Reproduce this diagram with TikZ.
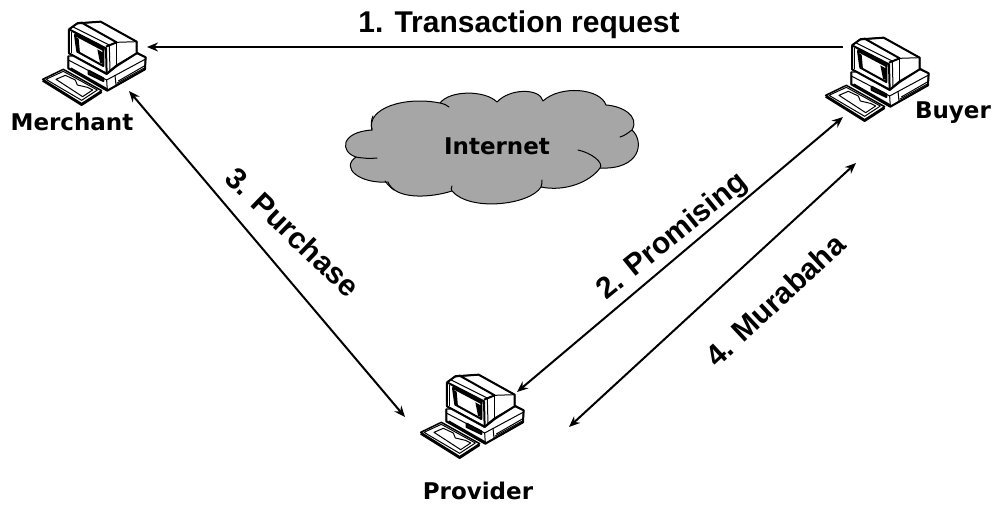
\documentclass[tikz,border=0pt]{standalone}
\usepackage{fontspec}
\setmainfont{Liberation Sans}
\newfontfamily\comicfont{DejaVu Sans}
\usetikzlibrary{arrows.meta}
\tikzset{
  conn/.style={line width=2pt,{Stealth[length=11pt,width=9pt]}-{Stealth[length=11pt,width=9pt]}},
  connone/.style={line width=2pt,-{Stealth[length=11pt,width=9pt]}},
  arrowlabel/.style={font=\fontsize{30}{32}\selectfont\bfseries,inner sep=0pt},
  hostlabel/.style={font=\fontsize{23}{26}\comicfont\bfseries,inner sep=0pt},
  cloudline/.style={line width=1pt,draw=black,line cap=round},
  pc/.style={line width=1.3pt,draw=black,line join=round,fill=white},
  pcthin/.style={line width=1pt,draw=black,line join=round},
  pcthick/.style={line width=2pt,draw=black,line join=round},
  pics/computer/.style={code={
    \begin{scope}[x=.3333pt,y=-.3333pt]
      % keyboard
      \path[pc,line width=1.5pt] (128,238)--(190,208)--(305,272)--(245,311)--cycle;
      \draw[pcthin] (138,238)--(190,214)--(292,270)--(245,301)--cycle;
      \draw[pcthin] (168,238)--(196,226)--(226,240)--(232,255)--(262,262)--(278,270)--(248,290)--cycle;
      \draw[pcthick] (128,242)--(245,315)--(305,276);
      % base
      \path[pc] (205,168)--(410,160)--(437,172)--(435,208)--(322,272)--(205,205)--cycle;
      \draw[pcthick] (205,168)--(205,205)--(322,272)--(435,208)--(437,172)--(410,158);
      \draw[pcthin] (205,180)--(320,240)--(437,177);
      \draw[pcthin] (320,240)--(322,272);
      \draw[pcthin] (345,225)--(348,255);
      \draw[pcthin] (350,250)--(435,203);
      \draw[pcthin] (355,243)--(433,198);
      \draw[pcthick] (266,212)--(310,235)--(310,243)--(266,222)--cycle;
      \draw[pcthin] (266,217)--(310,239);
      \draw[pcthick] (212,205)--(322,268);
      % monitor back
      \path[pc] (207,88)--(232,70)--(302,65)--(410,125)--(410,160)--(350,195)--(320,220)--(207,160)--cycle;
      \draw[pcthick] (207,88)--(232,70)--(302,65)--(410,125)--(410,160)--(350,198);
      \draw[pcthin] (350,127)--(410,125);
      \draw[pcthin] (350,127)--(350,198);
      \draw[pcthick] (232,70)--(245,68)--(350,127)--(318,140);
      \draw[pcthick] (207,88)--(318,145)--(320,222);
      \draw[pcthin] (218,80)--(328,135)--(330,212);
      \draw[pcthick] (207,88)--(207,160)--(320,222)--(350,198);
      \draw[pcthin] (215,95)--(215,160);
      % screen
      \draw[pcthick] (225,105)--(310,150)--(310,198)--(232,155)--cycle;
      \path[fill=black] (220,92)--(314,142)--(314,152)--(227,107)--cycle;
      \path[fill=black] (228,112)--(236,116)--(240,160)--(232,156)--cycle;
      \path[fill=black] (292,148)--(310,158)--(308,192)--(300,188)--cycle;
    \end{scope}
  }}
}
\begin{document}
\begin{tikzpicture}[x=1pt,y=-1pt]
  \useasboundingbox (0,0) rectangle (996,506);
  % cloud fill + outline
  \path[fill=black!35,draw=black,line width=1pt,line join=round]
    (372,130)
    .. controls (366,108) and (405,96) .. (440,103)
    .. controls (450,90) and (485,90) .. (497,102)
    .. controls (510,88) and (540,88) .. (543,101)
    .. controls (560,85) and (600,88) .. (606,105)
    .. controls (622,106) and (640,116) .. (632,130)
    .. controls (645,142) and (640,170) .. (600,168)
    .. controls (590,182) and (565,192) .. (541,187)
    .. controls (530,205) and (470,212) .. (452,191)
    .. controls (430,198) and (395,200) .. (388,182)
    .. controls (360,184) and (340,168) .. (356,157)
    .. controls (340,152) and (340,132) .. (372,130)
    -- cycle;
  \draw[cloudline] (372,130) .. controls (371,125) and (371,120) .. (373,116);
  \draw[cloudline] (355,157) .. controls (362,158) and (370,159) .. (377,158);
  \draw[cloudline] (440,103) .. controls (444,104) and (447,105) .. (449,107);
  \draw[cloudline] (632,130) .. controls (628,133) and (624,136) .. (620,137);
  \draw[cloudline] (578,150) .. controls (592,153) and (604,163) .. (600,168);
  \draw[cloudline] (541,187) .. controls (542,184) and (542,182) .. (542,180);
  \draw[cloudline] (452,191) .. controls (451,190) and (451,188) .. (452,186);
  \draw[cloudline] (385,181) .. controls (388,185) and (391,188) .. (394,190);
  \node[hostlabel] (internet) at (497,146) {Internet};

  \pic at (0,0) {computer};
  \pic at (783,16) {computer};
  \pic at (378,353) {computer};

  \coordinate (mtop) at (147,47);
  \coordinate (btop) at (843,47);
  \coordinate (mlow) at (129,91);
  \coordinate (plft) at (405,417);
  \coordinate (blow) at (843,117);
  \coordinate (ptop) at (517,392);
  \coordinate (brgt) at (856,163);
  \coordinate (prgt) at (569,427);

  \draw[connone] (btop) -- (mtop);
  \draw[conn] (mlow) -- (plft);
  \draw[conn] (blow) -- (ptop);
  \draw[conn] (brgt) -- (prgt);

  \node[hostlabel] (merchant) at (72,122) {Merchant};
  \node[hostlabel] (buyer) at (953,113) {Buyer};
  \node[hostlabel] (provider) at (478,491) {Provider};

  \node[arrowlabel] (l1) at (519,25) {1. Transaction request};
  \node[arrowlabel,rotate=-44] (l3) at (293,232) {3. Purchase};
  \node[arrowlabel,rotate=39] (l2) at (673,237) {2. Promising};
  \node[arrowlabel,rotate=43] (l4) at (775,300) {4. Murabaha};
\end{tikzpicture}
\end{document}
